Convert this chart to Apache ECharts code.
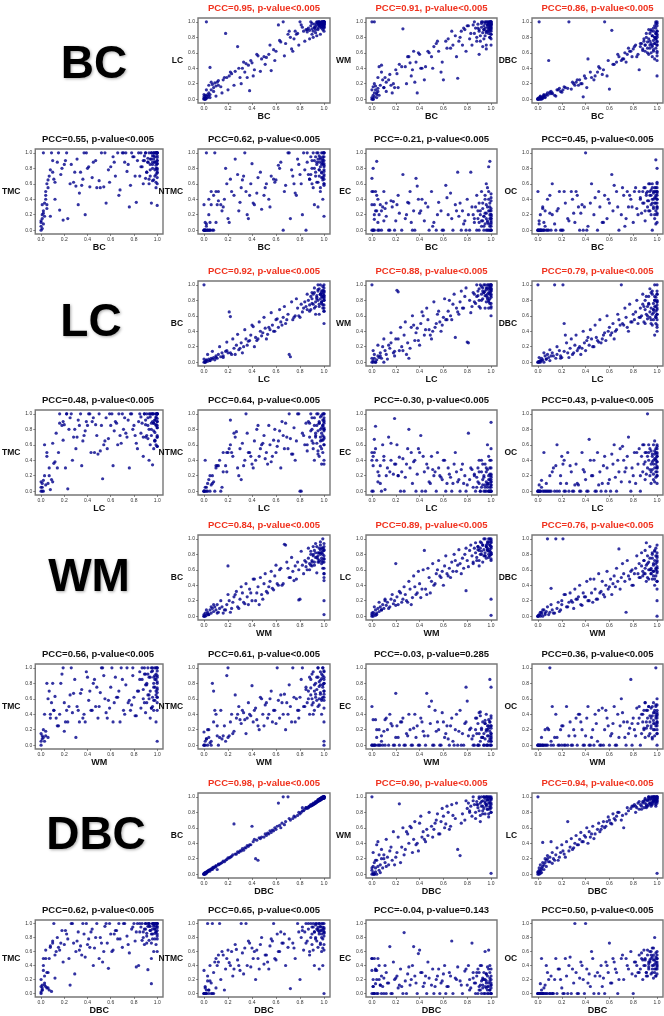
<!DOCTYPE html>
<html>
<head>
<meta charset="utf-8">
<script src="https://cdn.jsdelivr.net/npm/echarts@6/dist/echarts.min.js"></script>
<style>
  html, body { margin: 0; padding: 0; background: #fff; }
  #main { width: 664px; height: 1016px; }
</style>
</head>
<body>
<div id="main"></div>
<script>
// values, in percent (0..100) of the normalised score
// BC group: x = BC
const bcX = [0,0,0,1,1,1,2,2,2,3, 3,4,4,5,5,6,7,8,9,10, 11,12,14,16,18,19,21,23,26,28, 30,32,34,35,37,38,40,42,45,48, 50,52,54,56,58,60,62,64,66,68, 70,72,73,75,76,78,80,82,83,85, 86,87,88,89,90,90,91,92,92,93, 93,94,94,95,95,95,96,96,96,97, 97,97,98,98,98,98,99,99,99,99, 99,100,100,100,100,100,100,100,100,100,
  0,1,2,4,5,6,8,10,12,15, 17,20,22,25,29,31,33,36,39,41, 44,47,51,55,59,63,67,71,74,77, 79,81,84,86,88,89,90,91,92,93, 94,94,95,96,96,97,97,98,98,99, 99,99,100,100,100,100,100,100,100,100]
const bcLC = [0,1,3,0,2,5,100,1,4,6, 2,8,4,41,6,12,19,15,21,17, 22,18,16,25,85,28,30,33,36,68, 28,40,35,46,44,11,47,38,56,52, 55,54,58,37,64,62,96,74,100,72, 84,80,65,78,88,85,100,93,88,90, 87,92,89,95,91,98,88,93,97,90, 94,96,99,92,98,100,95,97,100,93, 98,96,100,94,99,97,100,95,98,99, 99,100,97,98,100,96,99,88,100,94,
  6,0,12,18,2,22,10,4,24,8, 28,12,35,18,40,20,48,28,50,30, 58,36,45,70,50,76,56,88,62,84, 70,96,75,90,78,100,84,80,92,86, 82,100,90,95,100,84,98,92,100,96, 90,100,95,92,100,97,93,100,98,100]
const bcWM = [0,2,100,5,0,16,100,3,8,12, 17,6,2,14,10,42,18,44,25,15, 28,22,25,18,20,15,33,45,91,42, 55,47,38,62,48,8,58,40,42,60, 55,68,72,62,35,25,75,78,66,70, 82,27,75,88,70,90,95,78,85,96, 85,92,80,97,88,90,75,98,93,86, 100,90,95,82,98,92,65,100,88,96, 93,100,85,97,90,99,80,95,100,91, 94,98,100,88,96,70,92,100,84,97,
  12,0,20,8,28,5,35,15,10,32, 8,38,15,42,20,55,30,22,60,40, 25,62,40,75,48,66,88,55,80,92, 62,95,70,100,75,92,58,82,100,68, 90,78,100,86,70,96,88,100,92,80, 100,88,96,78,92,100,84,94,98,90]
const bcDBC = [0,0,1,0,2,100,0,1,3,0, 2,3,1,5,4,2,6,8,50,7, 10,8,5,12,14,10,12,15,100,13, 20,22,18,25,20,3,27,52,28,30, 35,40,32,100,30,13,89,45,48,55, 50,52,60,58,66,62,65,70,55,38, 68,72,65,75,70,62,80,66,74,58, 78,70,85,60,72,90,55,82,68,76, 88,64,80,95,52,72,85,100,66,78, 92,70,60,84,98,30,75,88,50,80,
  0,1,4,2,6,3,5,9,7,4, 12,9,16,14,22,18,25,20,30,15, 35,25,42,38,50,45,58,52,48,62, 55,68,58,72,63,78,70,85,60,90, 66,75,88,70,82,62,92,80,72,98, 78,85,70,95,62,88,100,74,82,56]
const bcTMC = [0,5,10,15,2,20,100,25,8,18, 35,50,45,60,33,65,70,18,100,75, 66,40,88,26,80,13,90,15,85,62, 57,33,75,58,100,20,80,56,88,55, 64,100,56,35,78,82,95,70,100,52, 100,88,100,85,30,100,95,36,90,70, 100,82,90,96,67,100,75,88,93,60, 100,85,70,92,100,35,88,96,80,100, 92,65,100,78,95,88,55,100,84,72, 100,90,60,96,80,100,32,86,100,75,
  12,33,22,40,28,55,78,90,62,100, 72,85,100,60,75,92,48,66,100,82, 68,90,55,100,62,88,45,100,76,58, 95,70,100,82,60,90,100,75,88,66, 92,78,100,85,64,96,100,70,88,80, 62,100,94,74,86,100,68,90,78,100]
const bcNTMC = [0,0,33,0,10,0,100,0,8,0, 0,40,0,10,0,50,0,45,100,50, 33,38,33,30,80,60,10,50,92,72, 36,65,100,50,15,45,86,33,68,27, 45,60,40,70,66,65,84,88,0,58, 100,15,78,60,48,92,72,20,100,0, 88,72,66,95,60,80,100,33,90,75, 70,100,85,62,92,30,78,88,96,55, 82,94,68,100,75,88,40,92,65,86, 90,100,78,60,95,84,70,100,18,66,
  0,0,5,20,0,33,0,10,50,25, 40,15,66,45,25,55,70,20,60,35, 48,75,55,30,62,80,50,100,70,45, 85,60,78,100,66,72,90,55,80,95, 62,88,100,70,78,92,50,85,74,100, 68,95,82,60,90,76,100,58,86,72]
const bcEC = [0,67,50,80,0,50,33,14,0,25, 50,89,25,0,40,20,33,0,30,12, 28,35,0,38,37,0,33,22,72,15, 36,50,0,25,67,57,22,40,35,0, 50,10,0,36,25,0,58,20,48,0, 33,75,18,0,25,12,40,0,75,20, 15,30,0,25,10,35,20,50,5,12, 28,0,18,45,8,22,33,60,15,0, 55,10,25,82,0,40,15,30,5,20, 89,0,12,47,25,38,8,20,0,15,
  33,0,20,45,10,0,25,50,18,0, 30,12,45,0,20,35,10,0,40,25, 12,30,5,20,0,42,15,25,35,8, 0,20,30,10,45,15,0,25,12,35, 18,5,40,22,0,30,12,50,8,25, 0,35,15,20,10,0,42,28,5,18]
const bcOC = [0,0,50,0,0,8,0,0,20,0, 0,28,0,0,10,25,0,40,0,22, 0,60,8,25,50,0,0,35,12,50, 22,50,30,0,33,0,100,5,60,42, 0,30,10,45,15,35,72,58,50,0, 20,45,5,50,30,40,10,55,28,50, 40,22,50,35,55,12,45,30,50,25, 38,60,50,20,45,33,55,0,40,48, 50,28,42,15,55,35,91,25,50,8, 45,30,80,55,20,40,60,35,10,50,
  0,12,0,30,0,5,0,45,20,0, 28,0,50,15,40,10,45,22,30,0, 35,20,50,10,40,25,30,55,15,45, 30,50,20,42,35,55,25,48,38,60, 45,25,52,35,60,40,30,50,20,42, 55,35,28,48,40,62,30,45,50,22]

// LC group: x = LC
const lcX = [0,0,1,1,2,2,3,4,5,6, 7,8,9,10,11,12,14,15,16,18, 19,20,21,22,23,25,27,29,31,33, 35,37,39,41,43,45,47,49,51,53, 55,57,59,60,62,64,66,68,70,71, 72,74,76,78,80,81,82,84,85,86, 87,88,89,90,90,91,92,92,93,94, 94,95,95,96,96,97,97,97,98,98, 98,99,99,99,99,100,100,100,100,100, 100,100,100,100,99,98,97,96,95,93,
  0,1,3,5,7,10,13,16,19,22, 24,26,28,30,32,34,36,38,40,42, 44,46,48,50,52,54,56,58,61,63, 65,67,69,73,75,77,79,83,86,88, 89,90,91,92,93,94,95,96,97,98, 98,99,99,100,100,100,100,100,100,100]
const lcBC = [100,0,1,0,2,3,1,4,2,5, 4,6,3,8,5,10,7,12,6,14, 15,12,65,59,10,18,22,16,25,20, 30,27,35,46,32,30,40,38,44,36, 42,48,40,55,45,52,58,50,62,10, 7,55,60,70,58,75,65,78,72,68, 80,74,85,76,82,88,70,90,78,84, 86,92,80,95,75,88,82,100,85,90, 78,93,84,70,88,96,82,86,74,90, 80,66,92,50,85,76,88,62,94,72,
  4,0,10,2,14,6,20,8,26,12, 30,10,36,18,12,42,22,28,48,20, 28,52,34,58,30,45,64,40,56,68, 48,72,55,78,58,82,60,70,88,66, 68,90,75,96,62,82,100,72,88,78, 92,74,98,66,86,100,80,92,70,84]
const lcWM = [100,0,2,0,5,10,0,3,8,6, 12,5,20,0,15,10,22,18,25,12, 8,30,93,91,15,20,35,10,5,45, 48,38,28,50,60,42,55,35,40,45, 62,52,48,58,55,66,60,75,32,70, 65,78,70,85,26,25,80,72,90,88, 76,85,92,80,95,70,88,98,82,90, 100,86,92,78,96,88,100,84,94,70, 90,98,82,100,76,92,88,95,60,100, 84,94,72,100,90,80,96,86,100,92,
  5,15,0,22,8,30,4,38,14,30, 45,15,52,25,18,60,28,44,22,65, 35,70,42,30,78,50,66,40,82,55, 80,55,88,62,92,70,96,64,78,100, 86,72,100,80,96,90,70,94,82,100, 78,96,88,100,70,86,98,92,76,95]
const lcDBC = [100,0,0,1,0,2,5,3,0,8, 4,10,6,2,8,12,100,5,10,15, 8,6,100,50,35,12,18,10,22,15, 20,18,25,28,22,30,20,32,26,25, 35,28,40,45,38,30,42,55,100,50, 48,58,40,52,62,55,65,50,58,70, 60,75,52,68,80,62,56,72,85,65, 58,70,90,62,48,76,55,68,80,100, 72,60,84,50,66,78,45,88,70,55, 62,80,40,74,58,35,68,92,50,75,
  0,6,2,12,4,16,8,20,5,14, 25,6,30,12,35,18,10,40,15,32, 42,20,48,28,55,30,38,60,35,50, 40,62,48,70,45,75,52,80,58,88, 72,50,85,60,76,95,55,88,64,80, 85,58,72,92,48,78,100,62,88,68]
const lcTMC = [0,12,5,10,0,14,60,8,50,10, 20,2,15,12,36,38,30,50,100,85, 90,86,30,100,3,95,40,80,70,85, 33,72,90,100,50,95,86,48,52,16, 65,55,100,85,33,90,60,72,100,80, 95,70,30,100,85,72,62,90,100,75, 88,45,100,70,92,100,68,85,40,96, 100,80,72,90,100,55,88,100,66,92, 76,100,86,60,95,100,82,70,100,90, 85,100,58,72,96,65,88,34,100,80,
  5,0,20,45,30,62,75,88,66,100, 80,100,70,55,92,100,65,78,85,100, 90,50,72,100,85,60,95,68,100,78, 88,100,62,75,92,100,80,55,96,70, 100,86,72,95,100,60,88,100,78,92, 65,100,85,100,70,94,100,82,58,90]
const lcNTMC = [0,0,40,0,0,5,10,15,0,8, 20,12,0,30,33,33,0,5,50,33, 25,50,55,92,50,75,77,20,15,33, 100,50,45,30,40,85,55,62,42,35, 60,45,80,50,65,30,72,88,55,100, 68,48,40,100,0,0,75,60,88,52, 90,70,100,65,80,55,95,40,72,85, 62,100,78,45,88,70,96,58,82,35, 75,92,50,85,66,100,40,80,60,90, 70,95,35,80,100,55,65,88,48,75,
  0,5,0,20,10,33,40,25,50,60, 45,70,30,55,62,40,75,50,35,65, 80,45,60,72,50,85,38,66,58,78, 90,55,70,48,82,65,100,72,60,88, 78,95,62,85,70,100,52,90,80,66, 98,72,85,60,92,78,100,68,88,82]
const lcEC = [0,50,33,45,67,50,84,40,12,20, 33,0,60,40,2,20,70,25,40,22, 94,35,60,20,44,25,0,35,80,50, 38,0,55,72,45,0,30,10,28,25, 50,20,15,40,0,30,18,10,50,25, 12,0,35,20,8,75,15,28,5,22, 0,18,30,10,40,0,25,5,15,0, 20,35,8,0,12,60,5,28,0,15, 10,0,40,22,5,15,0,30,8,55, 0,20,12,89,0,45,8,25,5,35,
  40,0,55,25,10,45,30,62,35,20, 0,42,18,55,30,10,40,22,50,0, 25,35,12,45,20,0,30,18,40,10, 22,0,35,15,28,10,0,30,20,5, 12,25,0,40,8,18,0,30,10,20, 0,15,30,5,22,0,12,40,18,8]
const lcOC = [0,0,0,8,0,0,14,0,50,0, 0,0,0,20,0,25,0,33,60,0, 10,45,35,0,0,50,33,0,8,10, 0,50,25,0,67,20,40,0,8,0, 33,0,10,15,48,60,0,25,12,58, 40,30,70,0,20,50,10,35,55,0, 45,25,60,38,15,50,30,100,40,20, 55,35,10,48,28,60,40,22,52,30, 65,42,18,50,35,25,45,10,58,38, 30,48,20,55,40,12,35,45,25,50,
  0,0,5,0,10,0,30,0,20,40, 10,0,25,0,35,8,0,28,15,0, 40,20,0,50,25,10,45,30,0,35, 18,40,55,25,45,12,30,50,20,60, 35,50,22,45,60,28,52,38,15,48, 42,25,55,30,50,38,20,45,60,32]

// WM group: x = WM
const wmX = [0,0,1,1,2,3,3,4,5,6, 7,8,9,10,11,12,13,15,16,18, 19,20,21,22,24,26,28,30,32,34, 36,38,40,42,44,46,48,50,52,54, 55,57,59,61,63,65,67,68,70,72, 74,76,77,78,79,80,82,84,85,86, 87,88,89,90,90,91,92,92,93,94, 94,95,95,96,96,97,97,98,98,98, 99,99,99,99,100,100,100,100,100,100, 100,100,100,100,97,96,95,93,91,89,
  0,2,4,6,8,11,14,17,20,23, 25,27,29,31,33,35,37,39,41,43, 45,47,49,51,53,56,58,60,62,64, 66,69,71,73,75,79,81,83,85,87, 88,89,90,91,92,93,94,95,96,97, 97,98,98,99,99,100,100,100,100,100]
const wmBC = [0,2,0,4,1,3,5,2,8,4, 10,6,12,8,15,5,10,12,4,8, 15,65,20,5,18,28,12,22,30,16, 25,35,20,48,30,15,28,42,32,38, 45,36,52,42,60,40,93,92,62,50, 58,65,48,70,21,22,66,72,64,60, 75,68,80,72,65,78,85,70,82,76, 90,74,78,82,70,86,80,75,88,72, 80,100,70,84,2,20,55,90,46,78, 62,85,50,74,82,88,70,76,80,66,
  0,8,2,12,15,4,20,8,28,10, 25,32,10,38,18,42,15,30,48,20, 38,50,22,55,30,58,34,66,40,62, 42,70,50,76,46,60,84,55,70,88, 60,84,70,90,66,94,56,82,72,92, 96,68,82,62,88,74,55,94,70,86]
const wmLC = [0,2,5,0,3,8,1,4,10,6, 12,8,15,10,20,14,18,12,22,16, 20,68,25,15,30,22,28,18,35,24, 38,30,42,35,85,28,50,45,40,55, 60,52,58,65,55,62,70,58,72,66, 68,75,62,80,33,72,85,78,70,88, 82,76,90,85,72,88,95,80,92,78, 86,100,82,90,75,94,88,80,96,84, 92,78,86,100,1,22,80,90,95,74, 88,96,82,100,85,90,78,92,80,86,
  4,12,2,18,8,22,10,28,14,32, 18,38,20,45,15,52,28,58,24,60, 35,62,30,68,42,72,50,40,78,52, 50,80,58,86,55,88,64,92,68,95, 72,90,65,96,84,70,100,78,92,86, 96,76,100,84,92,72,98,82,90,80]
const wmDBC = [0,0,1,2,0,5,3,0,8,4, 6,100,2,5,36,8,4,100,10,6, 8,15,100,28,12,18,20,10,22,25, 15,30,25,20,48,18,35,22,30,45, 28,40,35,48,42,38,45,87,50,55, 5,52,48,58,60,40,62,55,68,50, 65,58,72,55,62,95,68,50,70,60, 75,62,55,80,48,66,58,72,85,40, 68,52,78,60,0,20,35,62,72,82, 58,70,45,64,52,75,60,48,66,55,
  0,5,8,2,12,15,4,18,20,28, 12,30,18,35,22,40,14,25,45,20, 30,48,22,55,32,25,58,38,28,52, 62,35,68,45,72,40,55,78,50,82, 52,72,85,45,78,60,90,55,82,68, 58,84,48,88,62,76,45,92,56,78]
const wmTMC = [0,15,8,12,10,5,40,18,80,10, 70,40,55,80,45,63,35,25,40,92, 100,18,30,45,50,100,67,10,45,67, 35,30,88,70,45,85,75,50,100,90, 60,35,48,100,55,62,70,30,85,40, 100,58,45,52,100,62,38,70,95,48, 85,60,100,42,78,55,92,65,88,35, 70,95,48,100,62,80,45,90,58,75, 100,65,85,30,5,90,55,72,100,62, 82,45,96,68,88,50,100,60,78,92,
  5,20,12,60,35,45,25,80,55,30, 65,42,85,50,30,72,40,95,58,45, 80,50,35,68,100,42,58,75,30,88, 62,100,45,78,55,90,38,70,85,100, 72,55,92,80,100,65,88,48,96,75, 58,85,100,70,92,62,80,100,74,88]
const wmNTMC = [0,17,5,0,8,20,0,10,3,0, 80,70,45,40,25,0,10,8,12,5, 90,100,12,30,15,65,40,33,45,33, 35,40,77,45,33,20,60,25,55,40, 60,30,45,100,35,55,66,20,40,50, 100,30,60,45,35,62,100,50,75,55, 70,40,85,60,92,55,78,45,66,88, 72,100,50,82,60,95,68,40,86,58, 75,100,90,62,5,0,48,80,30,70, 85,58,95,66,78,52,88,62,40,74,
  0,8,20,5,30,12,45,25,10,40, 18,35,50,28,42,15,55,38,30,48, 25,62,40,52,35,70,45,28,58,65, 40,55,78,30,62,45,85,50,72,60, 88,65,52,95,70,80,58,100,76,66, 84,92,60,78,100,70,88,62,96,80]
const wmEC = [0,50,33,0,0,33,0,10,0,20, 0,5,0,18,0,35,20,40,28,0, 0,67,25,10,30,35,0,12,20,0, 40,25,0,30,12,67,50,57,0,18, 30,0,42,10,25,0,35,5,20,0, 45,15,0,28,75,57,20,8,12,0, 20,35,0,15,42,5,22,10,30,0, 15,28,8,40,0,20,12,33,5,25, 18,0,85,30,10,22,0,75,15,8, 25,5,35,12,0,20,28,10,43,0,
  0,0,20,0,12,33,0,25,10,0, 30,0,15,40,0,22,10,0,35,18, 0,12,28,0,45,20,0,30,15,8, 25,0,40,18,0,30,12,22,0,35, 15,28,0,38,20,10,0,32,18,25, 0,22,12,30,8,0,38,15,25,5]
const wmOC = [0,0,0,0,0,10,0,0,0,0, 0,22,20,100,5,50,0,40,10,0, 20,0,25,0,50,12,0,20,35,40, 30,0,12,50,0,20,40,5,0,48, 0,45,25,12,28,0,40,10,60,30, 0,15,22,85,28,35,12,28,50,0, 40,30,20,55,10,45,25,35,50,15, 30,48,22,8,38,55,20,42,28,12, 100,35,50,25,0,40,15,60,30,45, 20,38,52,28,42,10,35,50,22,45,
  0,0,0,20,0,0,10,0,25,0, 0,30,0,12,0,40,20,0,35,0, 10,0,28,45,0,20,35,0,15,50, 0,25,42,10,30,0,20,48,35,15, 40,22,55,30,45,12,38,25,50,32, 28,45,20,38,52,30,15,42,25,35]

// DBC group: x = DBC
const dbcX = [0,0,0,1,1,1,2,2,3,3, 4,4,5,6,7,8,9,10,11,12, 13,15,17,19,21,23,25,27,29,31, 33,35,37,39,40,42,43,45,47,50, 52,54,56,58,60,62,64,66,67,70, 72,74,76,78,80,81,82,83,84,85, 86,87,88,89,90,90,91,92,92,93, 93,94,94,95,95,96,96,96,97,97, 97,98,98,98,99,99,99,99,100,100, 100,100,100,100,100,100,95,93,91,88,
  0,1,2,3,4,5,6,7,8,10, 12,14,16,18,20,22,24,26,28,30, 32,34,36,38,41,44,46,48,51,53, 55,57,59,61,63,65,68,71,75,79, 82,85,87,89,90,91,92,93,94,95, 96,96,97,97,98,98,99,99,100,100]
const dbcBC = [0,1,0,1,2,0,2,3,3,4, 4,5,6,6,8,8,9,10,6,12, 13,15,16,19,21,23,65,26,28,30, 31,34,36,38,62,45,20,18,46,48, 50,52,54,56,58,92,60,100,64,100, 70,72,74,76,78,80,86,82,84,86, 85,86,88,88,90,89,90,92,91,93, 92,94,93,95,94,96,95,97,96,98, 97,98,97,99,98,100,99,98,100,99, 100,99,100,98,100,100,96,92,90,88,
  0,2,1,3,5,4,7,6,9,11, 13,14,17,18,21,22,25,26,29,30, 33,34,37,38,42,44,47,48,52,53, 56,57,60,62,63,66,68,72,75,80, 82,86,87,90,89,92,91,94,93,96, 95,97,96,98,97,99,98,100,99,100]
const dbcWM = [100,0,5,0,2,10,0,15,3,8, 0,18,42,5,12,20,8,25,15,10, 22,30,18,12,28,91,35,25,55,40, 60,45,38,30,66,48,55,42,50,62, 58,70,52,68,75,65,80,62,90,72, 32,24,78,70,85,92,80,88,75,95, 90,80,94,86,98,82,92,100,88,78, 95,100,85,92,98,90,100,88,96,84, 100,92,78,98,88,95,100,84,96,90, 98,86,100,1,92,80,94,88,76,90,
  8,28,0,18,38,10,25,2,32,20, 45,12,35,55,22,48,15,60,32,52, 62,28,68,40,75,45,58,80,48,66, 78,52,85,60,88,58,76,92,66,95, 82,100,72,90,100,68,94,82,100,78, 90,100,84,96,74,100,92,86,98,80]
const dbcLC = [100,0,2,0,3,5,1,4,8,6, 10,41,12,15,18,20,16,22,42,14, 20,25,18,28,30,22,68,35,32,40, 38,45,42,50,48,40,55,52,46,58, 55,62,60,68,70,65,72,75,80,70, 60,78,82,85,88,90,80,86,92,84, 90,88,94,86,92,96,90,95,88,98, 100,92,96,90,98,94,100,92,96,100, 95,98,92,100,96,94,100,90,1,98, 100,96,92,98,94,100,88,90,86,92,
  3,8,12,2,15,6,20,10,24,16, 28,18,34,22,38,26,42,30,46,34, 50,38,54,42,60,48,62,52,66,58, 68,62,74,66,78,70,80,76,86,88, 88,94,84,95,98,88,96,100,92,100, 90,98,100,94,96,100,88,98,100,95]
const dbcTMC = [0,10,2,12,8,5,50,33,15,25, 10,50,8,30,5,68,3,72,100,22, 60,66,72,45,90,78,12,100,28,75, 62,55,85,100,70,66,88,40,80,50, 72,60,100,36,85,62,90,78,100,66, 100,82,58,92,100,75,38,100,40,88, 95,100,80,70,100,92,86,34,100,76, 100,90,96,50,85,100,78,92,100,60, 98,86,100,92,70,100,88,96,82,100, 94,100,78,90,100,85,14,96,72,88,
  20,5,40,12,62,30,8,50,66,75, 55,80,62,90,70,85,50,100,72,60, 88,68,100,52,78,92,65,100,80,45, 96,72,100,60,85,90,78,100,70,95, 88,100,76,92,100,82,96,100,90,72, 100,85,96,100,78,92,100,88,60,96]
const dbcNTMC = [0,0,33,0,8,0,5,0,18,100, 0,5,18,0,100,0,45,50,40,55, 100,60,5,50,44,60,35,63,40,100, 28,100,75,38,65,60,20,50,70,42, 55,35,78,100,48,60,88,72,85,66, 7,72,50,100,20,80,95,62,88,100, 75,92,60,100,85,70,95,40,88,98, 80,100,92,66,95,35,88,100,72,90, 96,60,100,85,78,95,40,92,0,88, 100,82,70,94,62,86,90,78,100,55,
  0,10,0,25,5,40,15,0,30,8, 45,20,55,35,62,40,25,70,48,33, 58,65,40,72,50,62,35,80,55,45, 68,75,50,85,60,72,40,78,65,88, 90,72,100,80,95,62,88,100,75,92, 85,100,70,95,80,90,100,65,88,92]
const dbcEC = [0,33,50,0,10,20,50,0,14,35, 33,0,50,20,12,0,10,22,40,0, 15,67,0,20,25,12,10,87,0,38, 20,67,15,57,62,30,10,25,45,12, 0,20,35,15,28,0,10,25,75,22, 38,18,0,32,12,40,20,8,72,30, 15,0,25,35,10,5,40,18,0,22, 12,30,0,20,60,8,28,15,38,5, 25,62,10,0,18,40,5,30,12,0, 20,35,8,15,0,25,10,20,5,30,
  50,10,0,33,20,0,40,12,25,0, 30,15,0,45,22,8,35,0,18,28, 12,40,25,0,30,15,0,22,35,10, 25,0,18,40,10,30,0,20,12,35, 5,22,15,0,30,12,40,8,20,0, 18,28,10,0,35,15,5,22,0,12]
const dbcOC = [0,0,0,0,0,0,14,0,0,50, 0,0,8,0,40,0,20,0,25,0, 0,50,35,20,0,50,0,52,35,100, 0,22,40,0,100,15,28,60,0,30, 25,10,0,40,72,15,45,30,0,50, 20,50,35,60,0,45,25,40,30,55, 35,50,20,62,40,48,30,55,25,45, 38,60,45,28,50,35,65,40,22,55, 48,30,42,80,35,52,25,45,60,38, 50,40,28,55,45,35,60,42,30,48,
  0,0,0,5,0,0,12,0,30,0, 0,20,0,35,8,0,25,40,0,15, 30,0,45,20,35,10,50,25,0,40, 22,45,30,15,50,35,20,55,40,28, 45,30,58,40,50,25,62,35,48,55, 30,52,40,65,35,48,25,58,42,50]

// labels and titles
const groupNames = ['BC', 'LC', 'WM', 'DBC']
const topNames = [['LC', 'WM', 'DBC'], ['BC', 'WM', 'DBC'], ['BC', 'LC', 'DBC'], ['BC', 'WM', 'LC']]
const bottomNames = ['TMC', 'NTMC', 'EC', 'OC']
const topTitles = [
  ['PCC=0.95, p-value<0.005', 'PCC=0.91, p-value<0.005', 'PCC=0.86, p-value<0.005'],
  ['PCC=0.92, p-value<0.005', 'PCC=0.88, p-value<0.005', 'PCC=0.79, p-value<0.005'],
  ['PCC=0.84, p-value<0.005', 'PCC=0.89, p-value<0.005', 'PCC=0.76, p-value<0.005'],
  ['PCC=0.98, p-value<0.005', 'PCC=0.90, p-value<0.005', 'PCC=0.94, p-value<0.005']
]
const bottomTitles = [
  ['PCC=0.55, p-value<0.005', 'PCC=0.62, p-value<0.005', 'PCC=-0.21, p-value<0.005', 'PCC=0.45, p-value<0.005'],
  ['PCC=0.48, p-value<0.005', 'PCC=0.64, p-value<0.005', 'PCC=-0.30, p-value<0.005', 'PCC=0.43, p-value<0.005'],
  ['PCC=0.56, p-value<0.005', 'PCC=0.61, p-value<0.005', 'PCC=-0.03, p-value=0.285', 'PCC=0.36, p-value<0.005'],
  ['PCC=0.62, p-value<0.005', 'PCC=0.65, p-value<0.005', 'PCC=-0.04, p-value=0.143', 'PCC=0.50, p-value<0.005']
]
const tickValues = [0, 0.2, 0.4, 0.6, 0.8, 1.0]

const groupX = [bcX, lcX, wmX, dbcX]
const groupTop = [[bcLC, bcWM, bcDBC], [lcBC, lcWM, lcDBC], [wmBC, wmLC, wmDBC], [dbcBC, dbcWM, dbcLC]]
const groupBottom = [[bcTMC, bcNTMC, bcEC, bcOC], [lcTMC, lcNTMC, lcEC, lcOC], [wmTMC, wmNTMC, wmEC, wmOC], [dbcTMC, dbcNTMC, dbcEC, dbcOC]]

// layout (px)
const colLeft = [33, 198, 366, 532]
const colWidth = [130, 132, 131, 131]
const rowTop = [18, 149, 281, 410, 535, 664, 793, 920]
const plotH = 85
const bigX = [94, 91, 89, 96]
const bigY = [65, 323, 578, 836]

const font = '"Liberation Sans", Arial, Helvetica, sans-serif'

var myChart = echarts.init(document.querySelector('#main'))

const option = {
  animation: false,
  backgroundColor: '#fff',
  title: [],
  grid: [],
  xAxis: [],
  yAxis: [],
  series: []
}

function addPanel (col, row, xName, yName, xs, ys, text, red) {
  const i = option.grid.length
  option.title.push({
    text: text,
    left: colLeft[col] + colWidth[col] / 2,
    top: rowTop[row] - 15,
    textAlign: 'center',
    padding: 0,
    textStyle: {
      fontSize: 9.5,
      fontWeight: 'bold',
      fontFamily: font,
      color: red ? '#f0321e' : '#111'
    }
  })
  option.grid.push({
    left: colLeft[col],
    top: rowTop[row],
    width: colWidth[col],
    height: plotH,
    show: true,
    borderColor: '#777',
    borderWidth: 1.4,
    backgroundColor: 'rgba(0,0,0,0)'
  })
  const axisBase = {
    gridIndex: i,
    type: 'value',
    min: -0.05,
    max: 1.05,
    nameLocation: 'middle',
    axisLine: { show: false, onZero: false },
    axisTick: { show: true, length: 2, customValues: tickValues, lineStyle: { color: '#444', width: 0.6 } },
    axisLabel: { customValues: tickValues, fontSize: 5, margin: 3, color: '#333', fontFamily: font, formatter: v => v.toFixed(1) },
    splitLine: { show: false }
  }
  option.xAxis.push(Object.assign({}, axisBase, {
    name: xName,
    nameGap: 9,
    nameTextStyle: { fontSize: 9, fontWeight: 'bold', color: '#111', fontFamily: font }
  }))
  option.yAxis.push(Object.assign({}, axisBase, {
    name: yName,
    nameRotate: 0,
    nameGap: 10,
    nameTextStyle: { fontSize: 8.5, fontWeight: 'bold', color: '#111', fontFamily: font, padding: [10, 0, 0, 0] }
  }))
  option.series.push({
    type: 'scatter',
    xAxisIndex: i,
    yAxisIndex: i,
    silent: true,
    symbolSize: 3.2,
    itemStyle: { color: '#00008b' },
    data: xs.map((v, k) => [v / 100, ys[k] / 100])
  })
}

groupNames.forEach((g, gi) => {
  // 大标签
  option.title.push({
    text: g,
    left: bigX[gi],
    top: bigY[gi] - 23,
    textAlign: 'center',
    padding: 0,
    textStyle: {
      fontSize: 46,
      fontWeight: 'bold',
      fontFamily: font,
      color: '#000',
      textShadowColor: 'rgba(0,0,0,0.35)',
      textShadowBlur: 3,
      textShadowOffsetX: 1,
      textShadowOffsetY: 1
    }
  })
  groupTop[gi].forEach((ys, c) => {
    addPanel(c + 1, gi * 2, g, topNames[gi][c], groupX[gi], ys, topTitles[gi][c], true)
  })
  groupBottom[gi].forEach((ys, c) => {
    addPanel(c, gi * 2 + 1, g, bottomNames[c], groupX[gi], ys, bottomTitles[gi][c], false)
  })
})

myChart.setOption(option)
</script>
</body>
</html>
